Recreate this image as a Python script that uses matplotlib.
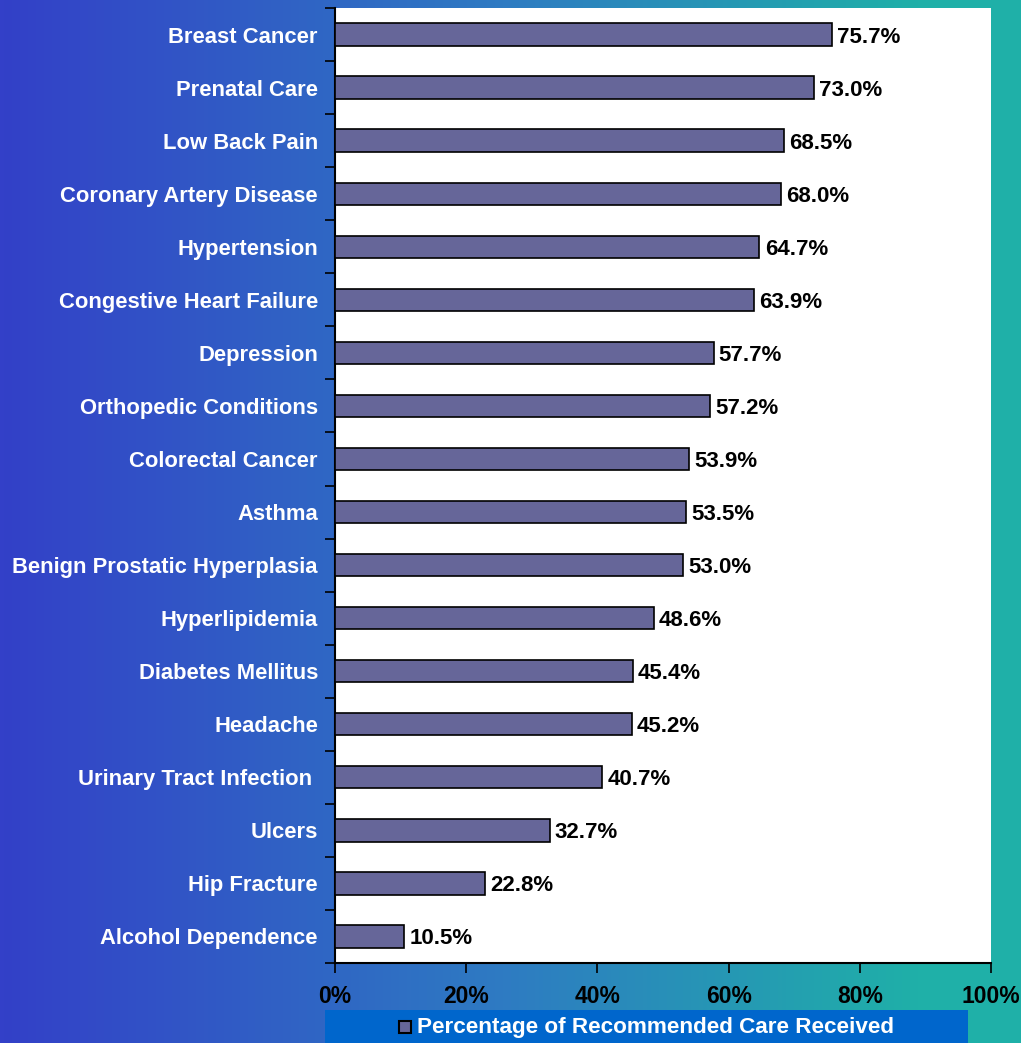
import numpy as np
from matplotlib import pyplot as plt
from matplotlib.colors import LinearSegmentedColormap
from matplotlib.patches import Rectangle

conditions = ['Breast Cancer', 'Prenatal Care', 'Low Back Pain', 'Coronary Artery Disease',
              'Hypertension', 'Congestive Heart Failure', 'Depression', 'Orthopedic Conditions',
              'Colorectal Cancer', 'Asthma', 'Benign Prostatic Hyperplasia', 'Hyperlipidemia',
              'Diabetes Mellitus', 'Headache', 'Urinary Tract Infection ', 'Ulcers',
              'Hip Fracture', 'Alcohol Dependence']
care_pct = [75.7, 73.0, 68.5, 68.0, 64.7, 63.9, 57.7, 57.2, 53.9, 53.5, 53.0, 48.6,
            45.4, 45.2, 40.7, 32.7, 22.8, 10.5]
x_ticks = [0, 20, 40, 60, 80, 100]
legend_label = 'Percentage of Recommended Care Received'

plt.rcParams['font.family'] = ['Liberation Sans', 'DejaVu Sans']
plt.rcParams['font.weight'] = 'bold'

W, H = 1021, 1043
fig = plt.figure(figsize=(W / 100, H / 100), dpi=100)

# background gradient blue -> teal
bg = fig.add_axes([0, 0, 1, 1])
cmap = LinearSegmentedColormap.from_list('bg', [(0.0, '#3340c8'), (0.5, '#2e7cc2'), (0.9, '#1fb0a8'), (1.0, '#1fb0a8')])
bg.imshow(np.linspace(0, 1, 256)[None, :], aspect='auto', cmap=cmap, extent=[0, 1, 0, 1])
bg.set_axis_off()

# plot area in pixels
left, right, top, bottom = 335, 991, 8, 963
ax = fig.add_axes([left / W, 1 - bottom / H, (right - left) / W, (bottom - top) / H])
ax.set_facecolor('white')

n = len(conditions)
ypos = np.arange(n)
ax.barh(ypos, care_pct, height=0.42, color='#666699', edgecolor='black', linewidth=1.2, zorder=3)
for y, v in zip(ypos, care_pct):
    ax.text(v + 0.8, y, f'{v:.1f}%', va='center_baseline', ha='left', fontsize=16, fontweight='bold', color='black')

ax.set_ylim(n - 0.5, -0.5)
ax.set_xlim(0, 100)
ax.set_yticks(np.arange(n + 1) - 0.5)
ax.set_yticklabels([])
ax.tick_params(axis='y', length=7, width=1.2, direction='out', color='black')
for y, name in zip(ypos, conditions):
    ax.text(-2.6, y, name, va='center_baseline', ha='right', fontsize=15.8, fontweight='bold', color='white')

ax.set_xticks(x_ticks)
ax.set_xticklabels([f'{t}%' for t in x_ticks], fontsize=16.5, fontweight='bold')
ax.tick_params(axis='x', length=7, width=1.2, direction='out', pad=9, color='black')

for s in ['top', 'right']:
    ax.spines[s].set_visible(False)
ax.spines['left'].set_linewidth(1.5)
ax.spines['bottom'].set_linewidth(1.5)

# legend box
lg = fig.add_axes([325 / W, 0, (968 - 325) / W, 33 / H])
lg.set_xlim(0, 643)
lg.set_ylim(0, 33)
lg.set_facecolor('#0066cc')
lg.set_xticks([])
lg.set_yticks([])
for s in lg.spines.values():
    s.set_visible(False)
lg.add_patch(Rectangle((74, 10), 12, 12, facecolor='#666699', edgecolor='black', linewidth=1.5))
lg.text(92, 16, legend_label, va='center', ha='left', fontsize=16.2, fontweight='bold', color='white')

fig.savefig('out.png', dpi=100)
